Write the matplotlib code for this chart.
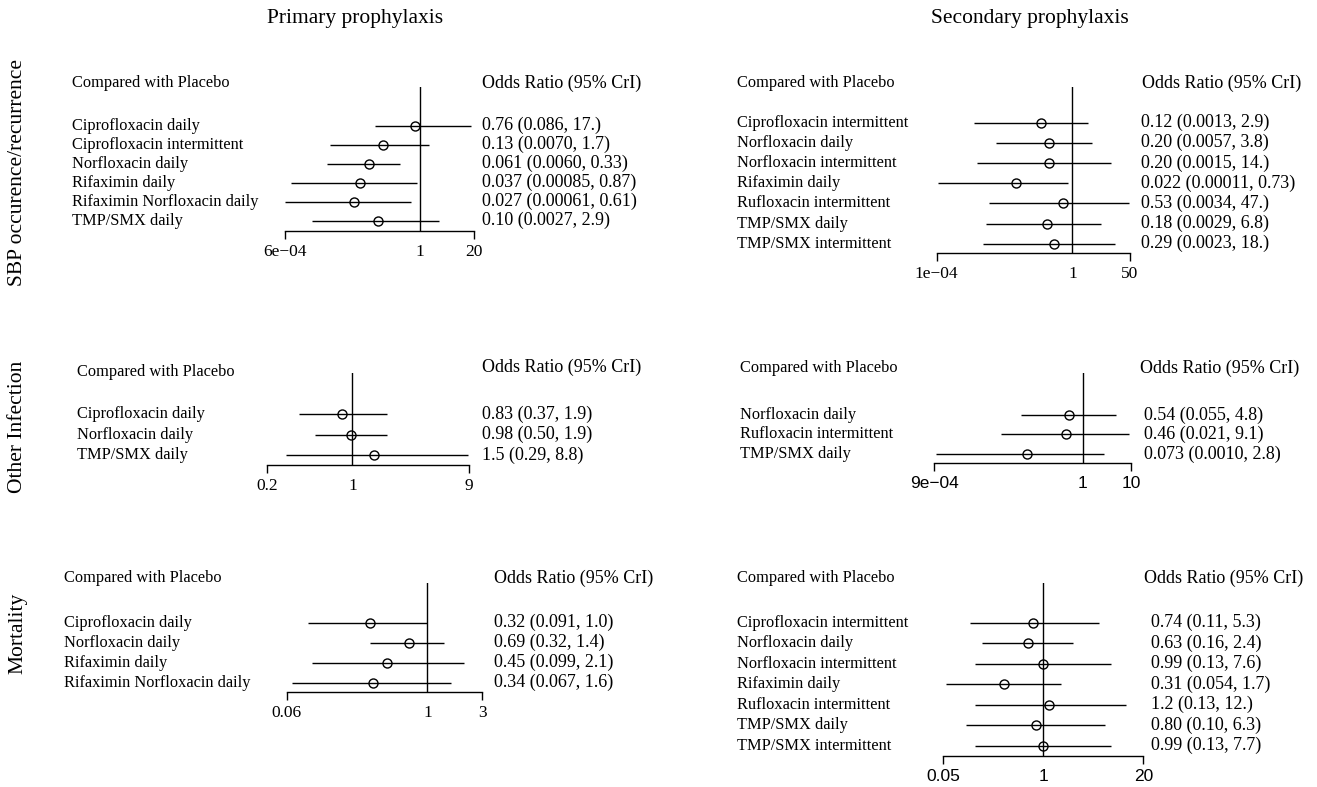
import matplotlib
matplotlib.use("Agg")
import matplotlib.pyplot as plt
import matplotlib.transforms as mtransforms

W, H = 1317, 787

plt.rcParams["font.family"] = ["Liberation Serif", "DejaVu Serif"]

# === Dados ===
# Primary prophylaxis - SBP occurence/recurrence
p1_labels = ["Ciprofloxacin daily", "Ciprofloxacin intermittent", "Norfloxacin daily",
             "Rifaximin daily", "Rifaximin Norfloxacin daily", "TMP/SMX daily"]
p1_est = ["0.76", "0.13", "0.061", "0.037", "0.027", "0.10"]
p1_lo = ["0.086", "0.0070", "0.0060", "0.00085", "0.00061", "0.0027"]
p1_hi = ["17.", "1.7", "0.33", "0.87", "0.61", "2.9"]
p1_ticks = [6e-4, 1, 20]
p1_ticklabels = ["6e\u221204", "1", "20"]

# Secondary prophylaxis - SBP occurence/recurrence
p2_labels = ["Ciprofloxacin intermittent", "Norfloxacin daily", "Norfloxacin intermittent",
             "Rifaximin daily", "Rufloxacin intermittent", "TMP/SMX daily", "TMP/SMX intermittent"]
p2_est = ["0.12", "0.20", "0.20", "0.022", "0.53", "0.18", "0.29"]
p2_lo = ["0.0013", "0.0057", "0.0015", "0.00011", "0.0034", "0.0029", "0.0023"]
p2_hi = ["2.9", "3.8", "14.", "0.73", "47.", "6.8", "18."]
p2_ticks = [1e-4, 1, 50]
p2_ticklabels = ["1e\u221204", "1", "50"]

# Primary prophylaxis - Other Infection
p3_labels = ["Ciprofloxacin daily", "Norfloxacin daily", "TMP/SMX daily"]
p3_est = ["0.83", "0.98", "1.5"]
p3_lo = ["0.37", "0.50", "0.29"]
p3_hi = ["1.9", "1.9", "8.8"]
p3_ticks = [0.2, 1, 9]
p3_ticklabels = ["0.2", "1", "9"]

# Secondary prophylaxis - Other Infection
p4_labels = ["Norfloxacin daily", "Rufloxacin intermittent", "TMP/SMX daily"]
p4_est = ["0.54", "0.46", "0.073"]
p4_lo = ["0.055", "0.021", "0.0010"]
p4_hi = ["4.8", "9.1", "2.8"]
p4_ticks = [9e-4, 1, 10]
p4_ticklabels = ["9e\u221204", "1", "10"]

# Primary prophylaxis - Mortality
p5_labels = ["Ciprofloxacin daily", "Norfloxacin daily", "Rifaximin daily",
             "Rifaximin Norfloxacin daily"]
p5_est = ["0.32", "0.69", "0.45", "0.34"]
p5_lo = ["0.091", "0.32", "0.099", "0.067"]
p5_hi = ["1.0", "1.4", "2.1", "1.6"]
p5_ticks = [0.06, 1, 3]
p5_ticklabels = ["0.06", "1", "3"]

# Secondary prophylaxis - Mortality
p6_labels = ["Ciprofloxacin intermittent", "Norfloxacin daily", "Norfloxacin intermittent",
             "Rifaximin daily", "Rufloxacin intermittent", "TMP/SMX daily", "TMP/SMX intermittent"]
p6_est = ["0.74", "0.63", "0.99", "0.31", "1.2", "0.80", "0.99"]
p6_lo = ["0.11", "0.16", "0.13", "0.054", "0.13", "0.10", "0.13"]
p6_hi = ["5.3", "2.4", "7.6", "1.7", "12.", "6.3", "7.7"]
p6_ticks = [0.05, 1, 20]
p6_ticklabels = ["0.05", "1", "20"]

fig = plt.figure(figsize=(W / 100, H / 100), dpi=100)


def forest(labels, est, lo, hi, ticks, ticklabels, g, sans_ticks=False):
    n = len(labels)
    ax = fig.add_axes([g["x0"] / W, 1 - g["axis"] / H,
                       (g["x1"] - g["x0"]) / W, (g["axis"] - g["top"]) / H])
    ax.set_xscale("log")
    ax.set_xlim(ticks[0], ticks[-1])
    ax.set_ylim(n - 1 + g["below"], -g["above"])

    rows = list(range(n))
    e = [float(v) for v in est]
    l = [float(v) for v in lo]
    h = [float(v) for v in hi]

    ax.axvline(1, color="black", lw=1.0)
    ax.hlines(rows, l, h, color="black", lw=1.0, clip_on=False)
    ax.plot(e, rows, "o", ms=6.5, mfc="none", mec="black", mew=1.0, clip_on=False)

    for s in ["top", "left", "right"]:
        ax.spines[s].set_visible(False)
    ax.spines["bottom"].set_linewidth(1.0)
    ax.set_yticks([])

    # ticks nas pontas, "1" sem marca
    ax.set_xticks([ticks[0], ticks[-1]], [ticklabels[0], ticklabels[-1]])
    ax.set_xticks([ticks[1]], [ticklabels[1]], minor=True)
    ax.tick_params(axis="x", which="major", length=5.8, width=1.0, pad=3.5)
    ax.tick_params(axis="x", which="minor", length=0, pad=9.3)
    if sans_ticks:
        for t in ax.get_xticklabels(which="both"):
            t.set_fontfamily("Liberation Sans")
            t.set_fontsize(12.5)
    else:
        for t in ax.get_xticklabels(which="both"):
            t.set_fontsize(12.5)

    trans = mtransforms.blended_transform_factory(fig.transFigure, ax.transData)
    for i, lab in enumerate(labels):
        ax.text(g["lab"] / W, i, lab, transform=trans, ha="left", va="center", fontsize=11.8)
        ax.text(g["val"] / W, i, f"{est[i]} ({lo[i]}, {hi[i]})", transform=trans,
                ha="left", va="center", fontsize=13)

    fig.text(g["lab"] / W, 1 - g["comp_y"] / H, "Compared with Placebo",
             ha="left", va="center", fontsize=11.8)
    fig.text(g["hdr"] / W, 1 - g["hdr_y"] / H, "Odds Ratio (95% CrI)",
             ha="left", va="center", fontsize=13)
    return ax


# === Layout de cada painel (pixels) ===
g1 = dict(x0=285, x1=474, top=87, axis=231, above=2.04, below=0.54,
          lab=72, val=482, hdr=482, comp_y=83.3, hdr_y=83.3)
g2 = dict(x0=936.7, x1=1130, top=86.7, axis=252.7, above=1.78, below=0.44,
          lab=737, val=1141, hdr=1142, comp_y=83.3, hdr_y=83.3)
g3 = dict(x0=266.7, x1=469.3, top=373.3, axis=465.3, above=1.97, below=0.48,
          lab=77, val=482, hdr=482, comp_y=371.7, hdr_y=367.7)
g4 = dict(x0=934, x1=1131.3, top=373.3, axis=463.3, above=2.14, below=0.48,
          lab=740, val=1144, hdr=1140, comp_y=368.3, hdr_y=368.3)
g5 = dict(x0=286.7, x1=482.3, top=582.7, axis=691.7, above=2.0, below=0.45,
          lab=64, val=494, hdr=494, comp_y=578.3, hdr_y=578.3)
g6 = dict(x0=943.3, x1=1143.3, top=582.7, axis=755.7, above=1.95, below=0.49,
          lab=737, val=1151, hdr=1144, comp_y=578.3, hdr_y=578.3)

forest(p1_labels, p1_est, p1_lo, p1_hi, p1_ticks, p1_ticklabels, g1)
forest(p2_labels, p2_est, p2_lo, p2_hi, p2_ticks, p2_ticklabels, g2)
forest(p3_labels, p3_est, p3_lo, p3_hi, p3_ticks, p3_ticklabels, g3)
forest(p4_labels, p4_est, p4_lo, p4_hi, p4_ticks, p4_ticklabels, g4, sans_ticks=True)
forest(p5_labels, p5_est, p5_lo, p5_hi, p5_ticks, p5_ticklabels, g5)
forest(p6_labels, p6_est, p6_lo, p6_hi, p6_ticks, p6_ticklabels, g6, sans_ticks=True)

# === Títulos ===
fig.text(355 / W, 1 - 18 / H, "Primary prophylaxis", ha="center", va="center", fontsize=15.5)
fig.text(1030 / W, 1 - 18 / H, "Secondary prophylaxis", ha="center", va="center", fontsize=15.5)
fig.text(18 / W, 1 - 172 / H, "SBP occurence/recurrence", rotation=90,
         ha="center", va="center", fontsize=15.5)
fig.text(18 / W, 1 - 427 / H, "Other Infection", rotation=90,
         ha="center", va="center", fontsize=15.5)
fig.text(18 / W, 1 - 633 / H, "Mortality", rotation=90,
         ha="center", va="center", fontsize=15.5)

fig.savefig("out.png", dpi=100)
